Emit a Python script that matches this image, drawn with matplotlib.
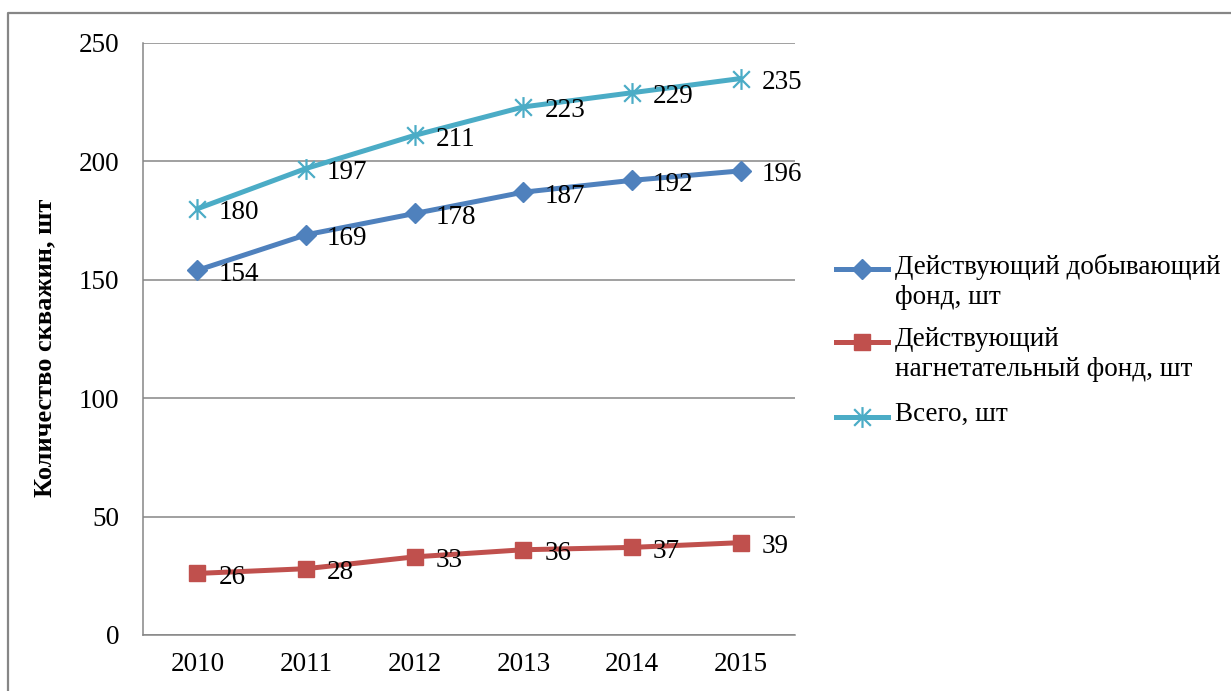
import matplotlib
matplotlib.use("Agg")
import matplotlib.pyplot as plt
from matplotlib.lines import Line2D
from matplotlib.path import Path
import numpy as np

plt.rcParams['font.family'] = ['Liberation Serif', 'DejaVu Serif']

years = ['2010', '2011', '2012', '2013', '2014', '2015']
dobyv = [154, 169, 178, 187, 192, 196]
nagnet = [26, 28, 33, 36, 37, 39]
vsego = [180, 197, 211, 223, 229, 235]

labels = ['Действующий добывающий\nфонд, шт',
          'Действующий\nнагнетательный фонд, шт',
          'Всего, шт']
colors = ['#4F81BD', '#C0504D', '#4BACC6']
grey = '#868686'

# excel-style star marker: x plus vertical bar
star = Path([(0, -1), (0, 1), (-0.8, -0.8), (0.8, 0.8), (-0.8, 0.8), (0.8, -0.8)],
            [Path.MOVETO, Path.LINETO, Path.MOVETO, Path.LINETO, Path.MOVETO, Path.LINETO])

W, H = 1231, 691
fig = plt.figure(figsize=(W / 100, H / 100), dpi=100)
ax = fig.add_axes([143 / W, 1 - 635 / H, (795 - 143) / W, (635 - 43) / H])

x = np.arange(len(years))
series = [dobyv, nagnet, vsego]
markers = [dict(marker='D', markersize=10),
           dict(marker='s', markersize=12),
           dict(marker=star, markersize=15, markeredgewidth=1.6, markerfacecolor='none')]

for vals, c, m in zip(series, colors, markers):
    ax.plot(x, vals, color=c, linewidth=3.6, solid_capstyle='round', zorder=3,
            markeredgecolor=c, **({'markerfacecolor': c} | m))
    for xi, v in zip(x, vals):
        ax.annotate(str(v), (xi, v), xytext=(21, -4), textcoords='offset pixels',
                    ha='left', va='center', fontsize=19.5, zorder=4)

ax.set_xlim(-0.5, 5.5)
ax.set_ylim(0, 250)
ax.set_yticks([0, 50, 100, 150, 200, 250])
ax.set_xticks(x)
ax.set_xticklabels(years)
ax.tick_params(length=0, labelsize=19.5)
ax.tick_params(axis='y', pad=17)
ax.tick_params(axis='x', pad=12)
ax.grid(axis='y', color=grey, linewidth=1.1)
ax.set_axisbelow(True)
for s in ['top', 'right']:
    ax.spines[s].set_visible(False)
for s in ['left', 'bottom']:
    ax.spines[s].set_color(grey)
    ax.spines[s].set_linewidth(1.1)

fig.text(45 / W, 1 - 348 / H, 'Количество скважин, шт', rotation=90,
         ha='center', va='center', fontsize=19, fontweight='bold')

# legend drawn by hand: handle aligned with first text line
leg_y = [269, 342, 417]
for yy, c, m, lab in zip(leg_y, colors, markers, labels):
    fy = 1 - yy / H
    fig.add_artist(Line2D([836 / W, 888 / W], [fy, fy], color=c, linewidth=3.6))
    fig.add_artist(Line2D([862 / W], [fy], color=c, linestyle='none',
                          markeredgecolor=c, **({'markerfacecolor': c} | m)))
    fig.text(895 / W, fy + 15 / H, lab, ha='left', va='top', fontsize=19.5,
             linespacing=1.25)

# outer chart frame (cut off at right and bottom)
fig.add_artist(Line2D([8 / W, 8 / W, 1.0], [0.0, 1 - 13 / H, 1 - 13 / H],
                      color=grey, linewidth=1.6))

fig.savefig('out.png', dpi=100)
